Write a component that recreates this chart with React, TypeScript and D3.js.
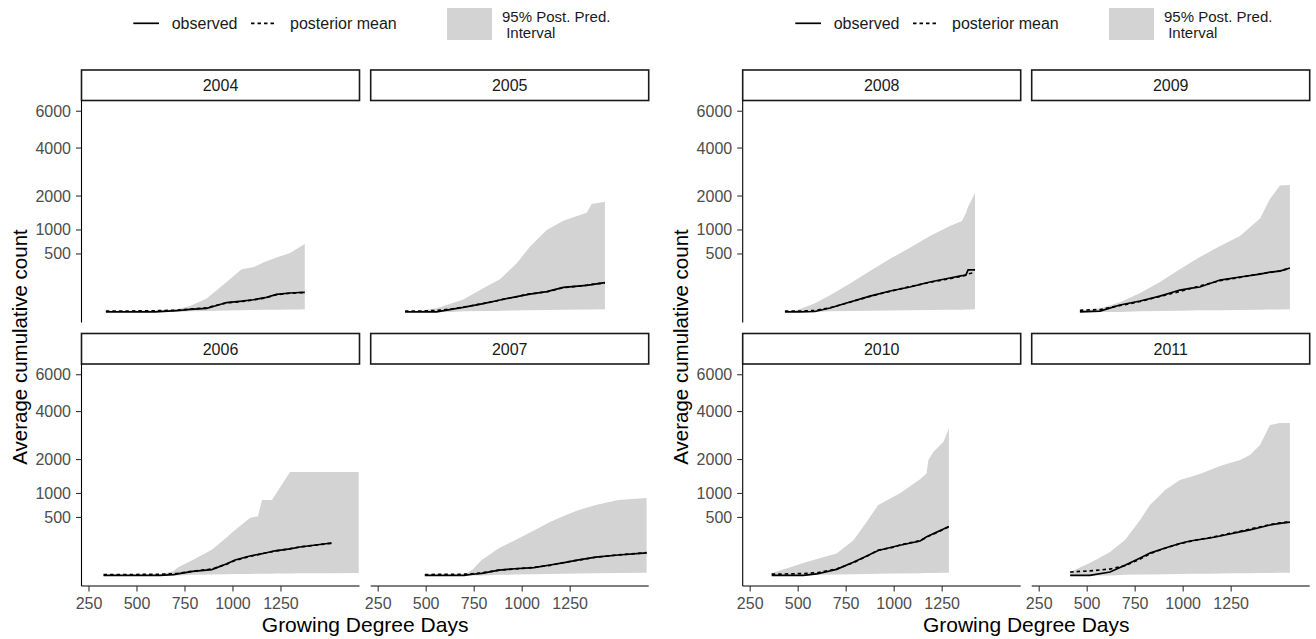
import * as d3 from 'd3';

// ---- data ----
const years = ['2004', '2005', '2006', '2007', '2008', '2009', '2010', '2011'];

const gdd2004 = [338, 447, 595, 707, 776, 863, 915, 967, 1045, 1105, 1167, 1227, 1297, 1348, 1374];
const observed2004 = [0, 0, 0, 0.2, 1, 1.9, 6, 13, 17, 22, 30, 46, 53, 56, 57];
const mean2004 = [0.1, 0.1, 0.2, 0.4, 1.2, 2.5, 6.5, 12, 16, 21, 29, 44, 52, 55, 56];
const upper2004 = [0, 0.1, 0.3, 1, 5, 27, 70, 134, 272, 296, 376, 440, 515, 625, 686];
const lower2004 = [0, 0, 0, 0, 0.05, 0.1, 0.2, 0.3, 0.4, 0.5, 0.6, 0.7, 0.8, 0.9, 1];

const gdd2005 = [390, 470, 554, 630, 693, 797, 867, 884, 972, 1006, 1040, 1128, 1214, 1336, 1362, 1431];
const observed2005 = [0, 0, 0, 1, 3, 10, 18.5, 21, 35, 41, 47, 61, 90, 105, 110, 127];
const mean2005 = [0.1, 0.1, 0.3, 1.2, 3.3, 10.5, 18, 21.5, 34, 42, 48, 60, 87, 106, 112, 126];
const upper2005 = [0, 0.3, 1.9, 10.5, 23, 83, 141, 159, 351, 482, 634, 999, 1238, 1466, 1733, 1808];
const lower2005 = [0, 0, 0, 0, 0.05, 0.1, 0.15, 0.2, 0.3, 0.35, 0.4, 0.5, 0.6, 0.8, 0.9, 1];

// the interval of 2006 runs on past the last observation
const gdd2006 = [326, 470, 619, 691, 712, 790, 890, 968, 1011, 1088, 1130, 1151, 1203, 1219, 1297, 1349, 1514, 1655];
const observed2006 = [0, 0, 0, 0.1, 0.3, 2.3, 5, 20, 35, 56, 65, 70, 85, 89, 105, 120, 156, null];
const mean2006 = [0.1, 0.1, 0.2, 0.4, 0.6, 2.6, 6, 19, 33, 54, 64, 70, 84, 88, 106, 121, 154, null];
const upper2006 = [0, 0.05, 0.1, 3, 9, 35, 98, 216, 306, 489, 523, 847, 847, 955, 1592, 1592, 1592, 1592];
const lower2006 = [0, 0, 0, 0, 0, 0.05, 0.1, 0.2, 0.25, 0.3, 0.35, 0.4, 0.45, 0.5, 0.55, 0.6, 0.7, 0.8];

const gdd2007 = [493, 698, 742, 789, 880, 960, 1061, 1145, 1219, 1287, 1383, 1501, 1648];
const observed2007 = [0, 0, 0.2, 0.6, 4.1, 6.5, 9, 16, 24, 35, 50, 62, 75];
const mean2007 = [0.1, 0.2, 0.4, 0.9, 4, 6.2, 9.5, 15, 25, 34, 49, 63, 77];
const upper2007 = [0, 0.1, 5, 35, 112, 182, 299, 424, 531, 627, 739, 847, 894];
const lower2007 = [0, 0, 0, 0, 0.05, 0.1, 0.2, 0.3, 0.4, 0.5, 0.7, 0.9, 1.1];

const gdd2008 = [431, 510, 587, 666, 770, 874, 979, 1082, 1186, 1290, 1353, 1374, 1385, 1421];
const observed2008 = [0, 0, 0.02, 2.2, 14.4, 37, 65, 92, 133, 171, 195, 205, 262, 262];
const mean2008 = [0.1, 0.1, 0.3, 2.5, 14, 36, 63, 95, 130, 165, 190, 200, 215, 232];
const upper2008 = [0, 1.2, 11, 41, 121, 250, 420, 615, 858, 1096, 1232, 1459, 1650, 2107];
const lower2008 = [0, 0, 0, 0.05, 0.1, 0.2, 0.3, 0.4, 0.5, 0.6, 0.7, 0.8, 0.9, 1];

const gdd2009 = [462, 567, 671, 776, 879, 983, 1035, 1087, 1192, 1296, 1400, 1452, 1504, 1556];
const observed2009 = [0, 0.1, 7, 17.6, 37, 71, 82, 92, 151, 181, 213, 235, 248, 287];
const mean2009 = [0.4, 0.8, 6, 16, 36, 62, 80, 100, 145, 178, 215, 232, 252, 282];
const upper2009 = [0.1, 1.7, 14, 53, 132, 272, 355, 448, 645, 858, 1300, 1900, 2380, 2400];
const lower2009 = [0, 0, 0, 0.05, 0.1, 0.2, 0.3, 0.35, 0.45, 0.55, 0.7, 0.8, 0.9, 1];

const gdd2010 = [362, 447, 527, 597, 700, 787, 857, 917, 996, 1030, 1135, 1169, 1178, 1205, 1257, 1274, 1285];
const observed2010 = [0, 0, 0, 0.3, 5.4, 25.8, 56, 92, 122, 135, 176, 223, 228, 260, 320, 343, 355];
const mean2010 = [0.2, 0.3, 0.5, 1, 6, 24, 54, 95, 118, 138, 180, 215, 232, 255, 315, 338, 352];
const upper2010 = [0.8, 8, 23, 40, 72, 182, 428, 738, 920, 1004, 1374, 1553, 1984, 2279, 2663, 3005, 3222];
const lower2010 = [0, 0, 0, 0.05, 0.1, 0.2, 0.3, 0.4, 0.5, 0.55, 0.7, 0.8, 0.8, 0.9, 1, 1.05, 1.1];

const gdd2011 = [411, 514, 619, 697, 776, 827, 906, 983, 1036, 1087, 1139, 1192, 1243, 1296, 1348, 1400, 1452, 1504, 1556];
const observed2011 = [0, 0, 1.7, 15, 45, 74, 112, 151, 176, 192, 208, 231, 255, 281, 308, 342, 378, 402, 423];
const mean2011 = [1.7, 3, 6, 14, 40, 70, 110, 150, 172, 195, 212, 235, 262, 290, 318, 350, 385, 410, 428];
const upper2011 = [1.7, 23, 81, 186, 457, 740, 1089, 1357, 1444, 1530, 1653, 1781, 1879, 1984, 2158, 2533, 3367, 3457, 3457];
const lower2011 = [0, 0, 0, 0.05, 0.1, 0.15, 0.2, 0.3, 0.35, 0.4, 0.45, 0.5, 0.6, 0.65, 0.7, 0.8, 0.9, 1, 1];

const xTicks = [250, 500, 750, 1000, 1250];
const yTicks = [500, 1000, 2000, 4000, 6000];
const legendLabels = ['observed', 'posterior mean'];
const intervalLabel = ['95% Post. Pred.', ' Interval'];
const xTitle = 'Growing Degree Days';
const yTitle = 'Average cumulative count';

const series: Record<string, { gdd: number[]; obs: (number | null)[]; mean: (number | null)[]; upper: number[]; lower: number[] }> = {
  '2004': { gdd: gdd2004, obs: observed2004, mean: mean2004, upper: upper2004, lower: lower2004 },
  '2005': { gdd: gdd2005, obs: observed2005, mean: mean2005, upper: upper2005, lower: lower2005 },
  '2006': { gdd: gdd2006, obs: observed2006, mean: mean2006, upper: upper2006, lower: lower2006 },
  '2007': { gdd: gdd2007, obs: observed2007, mean: mean2007, upper: upper2007, lower: lower2007 },
  '2008': { gdd: gdd2008, obs: observed2008, mean: mean2008, upper: upper2008, lower: lower2008 },
  '2009': { gdd: gdd2009, obs: observed2009, mean: mean2009, upper: upper2009, lower: lower2009 },
  '2010': { gdd: gdd2010, obs: observed2010, mean: mean2010, upper: upper2010, lower: lower2010 },
  '2011': { gdd: gdd2011, obs: observed2011, mean: mean2011, upper: upper2011, lower: lower2011 },
};

// ---- layout ----
const PW = 278;
const PH = 222;
const STRIP = 30.5;
const stripTops = [70, 333.5];
const halves = [
  { cols: [81.5, 370.7], years: years.slice(0, 4), dx: 0 },
  { cols: [742.7, 1031.7], years: years.slice(4, 8), dx: 662 },
];
const FONT = '"Liberation Sans", Arial, Helvetica, sans-serif';
const FILL = '#d3d3d3';

const x = d3.scaleLinear().domain([211, 1659]).range([0, PW]);
const y = d3.scalePow().exponent(0.5).domain([-16.81, 6659]).range([PH, 0]);

const Panel = ({ year, left, stripTop, firstCol, bottomRow }: any) => {
  const s = series[year];
  const top = stripTop + STRIP;
  const idx = s.gdd.map((_, i) => i);
  const area = d3.area<number>()
    .x(i => x(s.gdd[i]))
    .y0(i => y(s.lower[i]))
    .y1(i => y(s.upper[i]));
  const line = (vals: (number | null)[]) => d3.line<number>()
    .defined(i => vals[i] != null)
    .x(i => x(s.gdd[i]))
    .y(i => y(vals[i] as number))(idx) as string;

  return (
    <g>
      <rect x={left} y={stripTop} width={PW} height={STRIP} fill="white" stroke="#1a1a1a" strokeWidth={1.6} />
      <text x={left + PW / 2} y={stripTop + 21} textAnchor="middle" fontSize={16} fill="#1a1a1a">{year}</text>
      <g transform={`translate(${left},${top})`}>
        <path d={area(idx) as string} fill={FILL} />
        <path d={line(s.mean)} fill="none" stroke="black" strokeWidth={1.7} strokeDasharray="3.5,3" />
        <path d={line(s.obs)} fill="none" stroke="black" strokeWidth={1.7} />
        {firstCol && (
          <g>
            <line x1={0} x2={0} y1={0} y2={PH} stroke="black" strokeWidth={1.1} />
            {yTicks.map(t => (
              <g key={t}>
                <line x1={-5.5} x2={0} y1={y(t)} y2={y(t)} stroke="#333" strokeWidth={1.1} />
                <text x={-10.5} y={y(t) + 5.5} textAnchor="end" fontSize={16} fill="#4d4d4d">{t}</text>
              </g>
            ))}
          </g>
        )}
        {bottomRow && (
          <g>
            <line x1={0} x2={PW} y1={PH} y2={PH} stroke="black" strokeWidth={1.1} />
            {xTicks.map(t => (
              <g key={t}>
                <line x1={x(t)} x2={x(t)} y1={PH} y2={PH + 5.5} stroke="#333" strokeWidth={1.1} />
                <text x={x(t)} y={PH + 23} textAnchor="middle" fontSize={16} fill="#4d4d4d">{t}</text>
              </g>
            ))}
          </g>
        )}
      </g>
    </g>
  );
};

const Legend = ({ dx }: { dx: number }) => (
  <g transform={`translate(${dx},0)`}>
    <line x1={133.3} x2={159} y1={23.3} y2={23.3} stroke="black" strokeWidth={1.7} />
    <text x={171.7} y={28.8} fontSize={16} fill="#1a1a1a">{legendLabels[0]}</text>
    <line x1={251} x2={275} y1={23.3} y2={23.3} stroke="black" strokeWidth={1.7} strokeDasharray="3.5,3" />
    <text x={290} y={28.8} fontSize={16} fill="#1a1a1a">{legendLabels[1]}</text>
    <rect x={447} y={8} width={45} height={32} fill={FILL} />
    <text x={502} y={22} fontSize={15} fill="#1a1a1a" style={{ whiteSpace: 'pre' }}>{intervalLabel[0]}</text>
    <text x={502} y={37.5} fontSize={15} fill="#1a1a1a" style={{ whiteSpace: 'pre' }}>{intervalLabel[1]}</text>
  </g>
);

export default function App() {
  return (
    <svg width={1316} height={639} style={{ position: 'absolute', left: 0, top: 0, background: 'white' }} fontFamily={FONT}>
      <rect width={1316} height={639} fill="white" />
      {halves.map((h, hi) => (
        <g key={hi}>
          <Legend dx={h.dx} />
          {h.years.map((yr, i) => (
            <Panel key={yr} year={yr} left={h.cols[i % 2]} stripTop={stripTops[Math.floor(i / 2)]}
              firstCol={i % 2 === 0} bottomRow={i >= 2} />
          ))}
          <text transform={`translate(${h.cols[0] - 54.5},347) rotate(-90)`} textAnchor="middle" fontSize={20.5} fill="black">{yTitle}</text>
          <text x={(h.cols[0] + h.cols[1] + PW) / 2} y={632} textAnchor="middle" fontSize={21} fill="black">{xTitle}</text>
        </g>
      ))}
    </svg>
  );
}
